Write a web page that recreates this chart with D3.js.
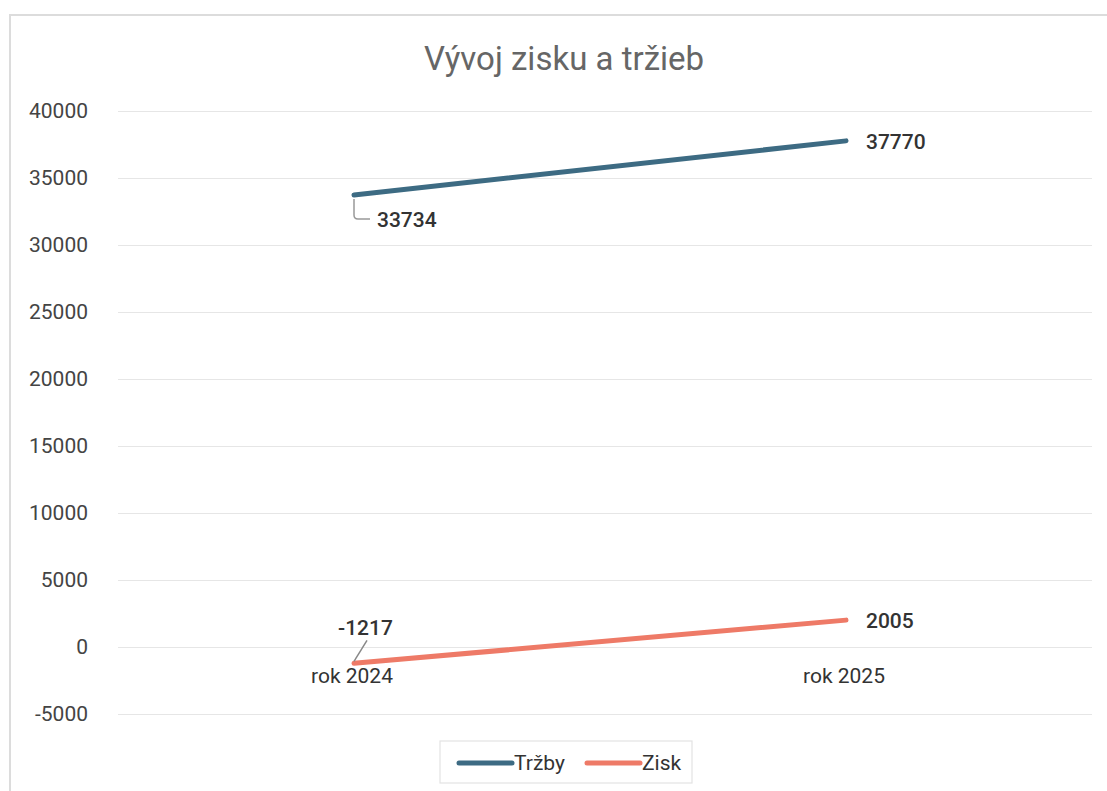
<!DOCTYPE html>
<html><head><meta charset="utf-8">
<script src="https://cdn.jsdelivr.net/npm/d3@7"></script>
<style>body{margin:0;background:#fff;font-family:"Liberation Sans",Arial,sans-serif}</style>
</head><body><svg id="c" width="1107" height="791"></svg>
<script>
const categories = ["rok 2024", "rok 2025"];
const trzby = [33734, 37770];
const zisk = [-1217, 2005];
const seriesNames = ["Tržby", "Zisk"];
const yTicks = [-5000, 0, 5000, 10000, 15000, 20000, 25000, 30000, 35000, 40000];
const title = "Vývoj zisku a tržieb";

const svg = d3.select("#c");
const colors = ["#3d6b83", "#ee7a67"];
const m = {l: 108, r: 1092, t: 111, b: 714};
const font = "Roboto, 'Liberation Sans', sans-serif";

// chart border
svg.append("rect").attr("x", 10).attr("y", 15).attr("width", 1120).attr("height", 800)
  .attr("fill", "none").attr("stroke", "#dcdcdc").attr("stroke-width", 2);

const x = d3.scaleBand().domain(categories).range([m.l, m.r]);
const y = d3.scaleLinear().domain([-5000, 40000]).range([m.b, m.t]);
const cx = d => x(d) + x.bandwidth() / 2;

// gridlines + y axis
const yAxis = d3.axisLeft(y).tickValues(yTicks).tickSize(-(m.r - m.l - 10)).tickFormat(d => String(d));
const ga = svg.append("g").attr("transform", `translate(${m.l + 10},0)`).call(yAxis);
ga.select(".domain").remove();
ga.selectAll(".tick line").attr("stroke", "#e6e6e6").attr("stroke-width", 1.2);
ga.selectAll(".tick text").attr("x", -30).attr("fill", "#444").attr("font-size", 21)
  .attr("font-family", font);

// category labels at zero line
svg.append("g").selectAll("text").data(categories).join("text")
  .attr("x", d => cx(d) - 2).attr("y", y(0) + 36).attr("text-anchor", "middle")
  .attr("fill", "#333").attr("font-size", 21).attr("font-family", font)
  .text(d => d);

// title
svg.append("text").attr("x", 564).attr("y", 70).attr("text-anchor", "middle")
  .attr("fill", "#666").attr("font-size", 33).attr("font-family", font)
  .text(title);

const line = d3.line().x((d, i) => cx(categories[i])).y(d => y(d));
[trzby, zisk].forEach((s, k) => {
  svg.append("path").attr("d", line(s)).attr("fill", "none")
    .attr("stroke", colors[k]).attr("stroke-width", 5).attr("stroke-linecap", "round");
});

function label(xp, yp, txt) {
  svg.append("text").attr("x", xp).attr("y", yp).attr("fill", "#333").attr("font-size", 21)
    .attr("font-weight", 500).attr("font-family", font).text(txt);
}
// leader lines
const p0 = [cx(categories[0]), y(trzby[0])];
svg.append("path").attr("d", `M${p0[0]},${p0[1] + 4} L${p0[0]},${p0[1] + 20} Q${p0[0]},${p0[1] + 24} ${p0[0] + 4},${p0[1] + 24} L${p0[0] + 16},${p0[1] + 24}`)
  .attr("fill", "none").attr("stroke", "#999").attr("stroke-width", 1.5);
label(p0[0] + 23, p0[1] + 32, trzby[0]);
const p1 = [cx(categories[1]), y(trzby[1])];
label(p1[0] + 20, p1[1] + 8, trzby[1]);
const q0 = [cx(categories[0]), y(zisk[0])];
svg.append("line").attr("x1", q0[0]).attr("y1", q0[1] - 2).attr("x2", q0[0] + 13).attr("y2", q0[1] - 23)
  .attr("stroke", "#888").attr("stroke-width", 1.5);
label(q0[0] - 16, q0[1] - 28, zisk[0]);
const q1 = [cx(categories[1]), y(zisk[1])];
label(q1[0] + 20, q1[1] + 8, zisk[1]);

// legend
const lg = svg.append("g");
lg.append("rect").attr("x", 440).attr("y", 741).attr("width", 252).attr("height", 42)
  .attr("fill", "#fff").attr("stroke", "#e3e3e3").attr("stroke-width", 1.2);
const lx = [459, 587];
seriesNames.forEach((n, k) => {
  lg.append("line").attr("x1", lx[k]).attr("x2", lx[k] + 53).attr("y1", 763).attr("y2", 763)
    .attr("stroke", colors[k]).attr("stroke-width", 5).attr("stroke-linecap", "round");
  lg.append("text").attr("x", lx[k] + 55).attr("y", 770).attr("fill", "#333").attr("font-size", 21)
    .attr("font-family", font).text(n);
});
</script></body></html>
